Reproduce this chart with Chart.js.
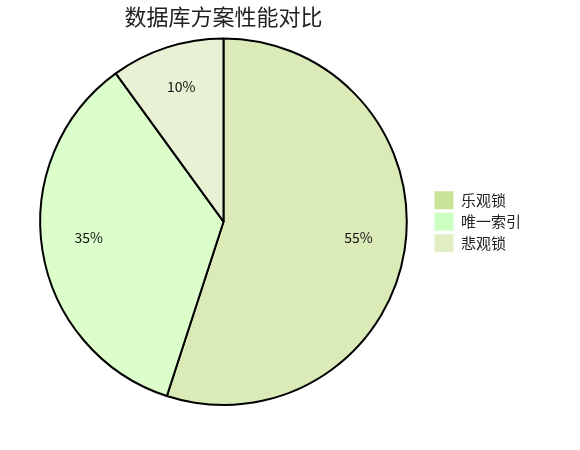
<!DOCTYPE html>
<html>
<head>
<meta charset="utf-8">
<script src="https://cdn.jsdelivr.net/npm/chart.js@4"></script>
<style>
  html, body { margin: 0; padding: 0; background: #fff; }
  #wrap { width: 580px; height: 450px; }
</style>
</head>
<body>
<div id="wrap"><canvas id="chartPie"></canvas></div>
<script>
'use strict';

/* ── DATA ── */
const TITLE = '数据库方案性能对比';
const LABELS = ['乐观锁', '唯一索引', '悲观锁'];
const VALUES = [55, 35, 10];
const SLICE_COLORS = ['#daebb7', '#dbfecb', '#e8f1d3'];
const LEGEND_COLORS = ['#c9e29a', '#ccffc0', '#e1eec4'];

const FONT = "'Noto Sans CJK SC', 'Noto Sans', sans-serif";

/* percent labels inside slices */
const sliceLabels = {
  id: 'sliceLabels',
  afterDatasetsDraw(chart) {
    const { ctx } = chart;
    const meta = chart.getDatasetMeta(0);
    const total = VALUES.reduce((s, v) => s + v, 0);
    ctx.save();
    ctx.font = `14px ${FONT}`;
    ctx.fillStyle = '#111';
    ctx.textAlign = 'center';
    ctx.textBaseline = 'alphabetic';
    meta.data.forEach((arc, i) => {
      const { x, y, startAngle, endAngle, outerRadius } = arc.getProps(['x', 'y', 'startAngle', 'endAngle', 'outerRadius'], true);
      const mid = (startAngle + endAngle) / 2;
      const r = outerRadius * 0.745;
      const pct = Math.round(VALUES[i] / total * 100) + '%';
      ctx.fillText(pct, x + Math.cos(mid) * r, y + Math.sin(mid) * r);
    });
    ctx.restore();
  },
};

new Chart(document.getElementById('chartPie'), {
  type: 'pie',
  data: {
    labels: LABELS,
    datasets: [{
      data: VALUES,
      backgroundColor: SLICE_COLORS,
      borderColor: '#000',
      borderWidth: 2,
    }],
  },
  options: {
    responsive: true,
    maintainAspectRatio: false,
    animation: false,
    layout: { padding: { left: 16, right: 49, top: 0, bottom: 44 } },
    plugins: {
      title: {
        display: true,
        text: TITLE,
        fullSize: false,
        color: '#222',
        font: { family: FONT, size: 22, weight: 'normal' },
        padding: { top: 3, bottom: 8 },
      },
      legend: {
        position: 'right',
        fullSize: false,
        labels: {
          color: '#222',
          font: { family: FONT, size: 15 },
          boxWidth: 19,
          boxHeight: 18,
          padding: 3.5,
          generateLabels: chart => LABELS.map((text, i) => ({
            text,
            fillStyle: LEGEND_COLORS[i],
            strokeStyle: LEGEND_COLORS[i],
            lineWidth: 0,
            hidden: false,
            index: i,
            fontColor: '#222',
          })),
        },
      },
      tooltip: { enabled: false },
    },
  },
  plugins: [sliceLabels],
});
</script>
</body>
</html>
